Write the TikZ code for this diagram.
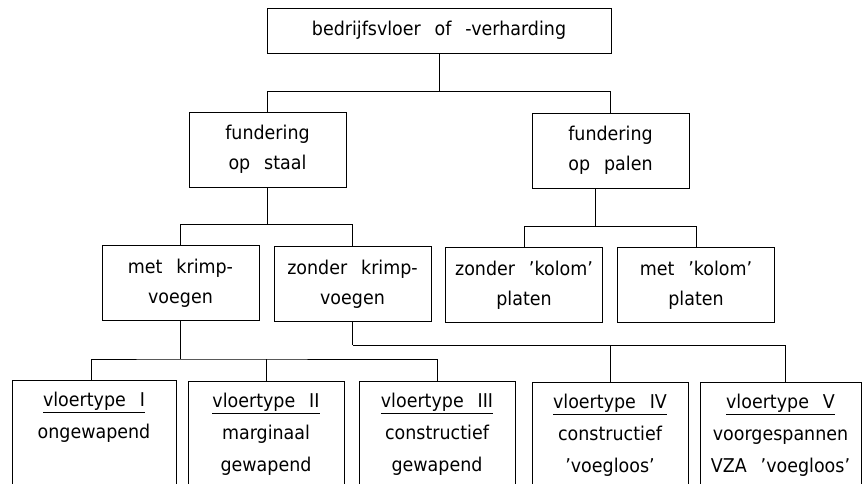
\documentclass[tikz,border=0pt]{standalone}
\usepackage{fontspec}
\setmainfont{DejaVu Sans}[FakeStretch=0.92,WordSpace=2.5]
\usepackage{tikz}

\newcommand{\vloertekst}[3]{\parbox[c][130pt][t]{150pt}{\centering\underline{#1}\\#2\\#3}}

\begin{document}
\begin{tikzpicture}[x=1pt,y=-1pt,
    vak/.style={draw,line width=1pt,align=center,inner sep=0pt,minimum width=157pt,minimum height=75pt,font=\fontsize{19}{30}\selectfont},
    vloervak/.style={draw,line width=1pt,anchor=north,inner xsep=3pt,inner ysep=12pt,font=\fontsize{19}{32}\selectfont},
    lijn/.style={line width=1pt}]
  \clip (0,0) rectangle (863,483);
  \node [vak,minimum width=344pt,minimum height=45pt] (hoofd) at (439,30.5) {bedrijfsvloer of -verharding};
  \node [vak] (staal) at (267.5,149.5) {fundering\\op staal};
  \node [vak] (palen) at (610.5,150.5) {fundering\\op palen};
  \node [vak] (metk) at (180.5,283) {met krimp-\\voegen};
  \node [vak] (zonderk) at (352.5,284) {zonder krimp-\\voegen};
  \node [vak] (zonderkol) at (524,285) {zonder 'kolom'\\platen};
  \node [vak] (metkol) at (696,285) {met 'kolom'\\platen};
  \node [vloervak,minimum width=164pt] (typeI) at (94,380) {\vloertekst{vloertype I}{ongewapend}{}};
  \node [vloervak] (typeII) at (266,381) {\vloertekst{vloertype II}{marginaal}{gewapend}};
  \node [vloervak] (typeIII) at (437,381) {\vloertekst{vloertype III}{constructief}{gewapend}};
  \node [vloervak] (typeIV) at (610,382) {\vloertekst{vloertype IV}{constructief}{'voegloos'}};
  \node [vloervak,minimum width=161pt] (typeV) at (780.5,382) {\vloertekst{vloertype V}{voorgespannen}{VZA 'voegloos'}};

  \draw [lijn] (hoofd.south) -- ++(0,38) coordinate (k1);
  \draw [lijn] (staal.north) |- (k1) -| (palen.north);
  \draw [lijn] (staal.south) -- ++(0,37) coordinate (k2);
  \draw [lijn] (metk.north) |- (k2) -| (zonderk.north);
  \draw [lijn] ([xshift=-15pt]palen.south) -- ++(0,38) coordinate (k3);
  \draw [lijn] (zonderkol.north) |- (k3) -| (metkol.north);
  \draw [lijn] (metk.south) -- ++(0,38) coordinate (k4);
  \draw [lijn] ([xshift=-3pt]typeI.north) |- (k4) -| (typeIII.north);
  \draw [lijn] (typeII.north) -- (typeII.north |- k4);
  \draw [lijn] (zonderk.south) -- ++(0,23) coordinate (k5);
  \draw [lijn] (k5) -| ([xshift=4.5pt]typeV.north);
  \draw [lijn] (typeIV.north) -- (typeIV.north |- k5);
\end{tikzpicture}
\end{document}
